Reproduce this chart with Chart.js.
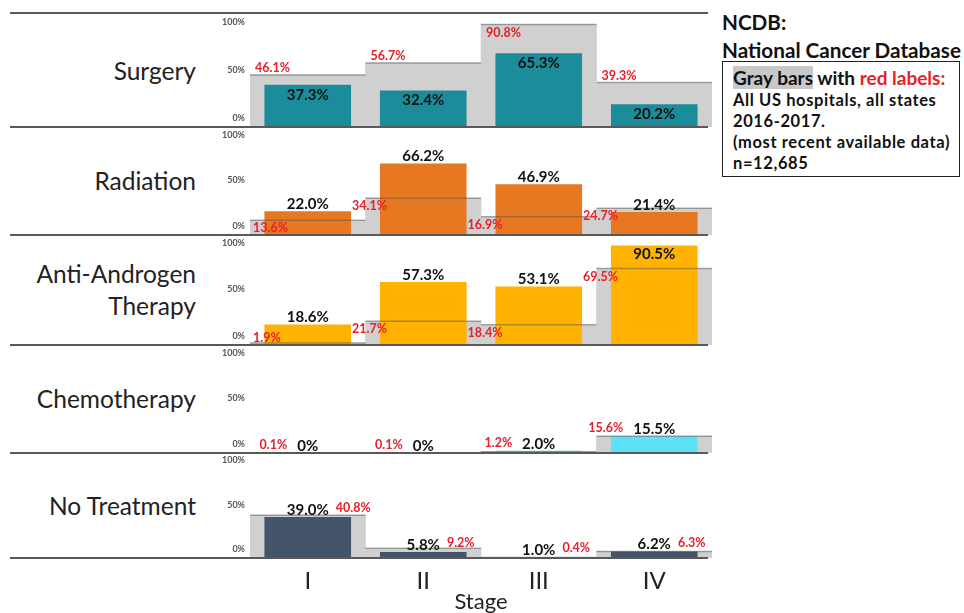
<!DOCTYPE html>
<html>
<head>
<meta charset="utf-8">
<title>Treatment by stage vs NCDB</title>
<script src="https://cdn.jsdelivr.net/npm/chart.js@4.4.1/dist/chart.umd.min.js"></script>
<style>
  body { margin: 0; background: #fff; font-family: Lato, "Open Sans", sans-serif; }
  #page { position: relative; width: 964px; height: 613px; overflow: hidden; }
  .row-label { position: absolute; left: 0; width: 196px; display: flex; align-items: center; justify-content: flex-end; text-align: right; font-size: 24.5px; line-height: 32px; color: #222; }
  .chart-box { position: absolute; left: 200px; width: 512px; }
  .sep { position: absolute; left: 10px; width: 698px; height: 2px; background: #595959; z-index: 2; }
  #ncdb-title { position: absolute; left: 722px; top: 8px; font-weight: bold; font-size: 20.7px; line-height: 28px; color: #111; white-space: nowrap; }
  #ncdb-box { position: absolute; left: 722px; top: 61px; width: 238px; height: 116px; border: 1.5px solid #222; box-sizing: border-box; padding: 3px 0 0 10px; font-weight: bold; color: #111; white-space: nowrap; }
  #ncdb-box .head { font-size: 19px; line-height: 25px; }
  #ncdb-box .hl { background: #c8c8c8; }
  #ncdb-box .red { color: #e8202a; }
  #ncdb-box .line { font-size: 16.5px; line-height: 21px; letter-spacing: 0.6px; }
</style>
</head>
<body>
<div id="page">
  <div class="row-label" style="top:14px;height:113px">Surgery</div>
  <div class="row-label" style="top:127px;height:108px">Radiation</div>
  <div class="row-label" style="top:235px;height:110px">Anti-Androgen<br>Therapy</div>
  <div class="row-label" style="top:345px;height:108px">Chemotherapy</div>
  <div class="row-label" style="top:453px;height:105px">No Treatment</div>

  <div class="chart-box" style="top:14px;height:113px"><canvas id="surgery"></canvas></div>
  <div class="chart-box" style="top:127px;height:108px"><canvas id="radiation"></canvas></div>
  <div class="chart-box" style="top:235px;height:110px"><canvas id="adt"></canvas></div>
  <div class="chart-box" style="top:345px;height:108px"><canvas id="chemo"></canvas></div>
  <div class="chart-box" style="top:453px;height:160px"><canvas id="none"></canvas></div>

  <div class="sep" style="top:12px"></div>
  <div class="sep" style="top:126px"></div>
  <div class="sep" style="top:234px"></div>
  <div class="sep" style="top:344px"></div>
  <div class="sep" style="top:452px"></div>
  <div class="sep" style="top:557px"></div>

  <div id="ncdb-title">NCDB:<br>National Cancer Database</div>
  <div id="ncdb-box">
    <div class="head"><span class="hl">Gray bars</span> with <span class="red">red labels:</span></div>
    <div class="line">All US hospitals, all states</div>
    <div class="line">2016-2017.</div>
    <div class="line">(most recent available data)</div>
    <div class="line">n=12,685</div>
  </div>
</div>

<script>
const stages = ['I', 'II', 'III', 'IV'];
const yTicks = [0, 50, 100];

// gray bars = NCDB (all US hospitals), colored bars = our hospital
const surgeryNcdb = [46.1, 56.7, 90.8, 39.3];
const surgeryLocal = [37.3, 32.4, 65.3, 20.2];
const radiationNcdb = [13.6, 34.1, 16.9, 24.7];
const radiationLocal = [22.0, 66.2, 46.9, 21.4];
const adtNcdb = [1.9, 21.7, 18.4, 69.5];
const adtLocal = [18.6, 57.3, 53.1, 90.5];
const chemoNcdb = [0.1, 0.1, 1.2, 15.6];
const chemoLocal = [0, 0, 2.0, 15.5];
const noneNcdb = [40.8, 9.2, 0.4, 6.3];
const noneLocal = [39.0, 5.8, 1.0, 6.2];

const fmt = v => (v === 0 ? '0%' : v.toFixed(1) + '%');

// value labels (black = hospital, red = NCDB) + darker top edge on gray bars
const barLabels = {
    id: 'barLabels',
    afterDatasetsDraw(chart, args, opts) {
        const ctx = chart.ctx;
        const area = chart.chartArea;
        const grayMeta = chart.getDatasetMeta(0);
        const barMeta = chart.getDatasetMeta(1);
        const grayData = chart.data.datasets[0].data;
        const barData = chart.data.datasets[1].data;

        ctx.save();
        ctx.strokeStyle = 'rgba(80,80,80,0.45)';
        ctx.lineWidth = 1.5;
        grayMeta.data.forEach(g => {
            ctx.beginPath();
            ctx.moveTo(g.x - g.width / 2, g.y);
            ctx.lineTo(g.x + g.width / 2, g.y);
            ctx.stroke();
        });

        ctx.textBaseline = 'middle';
        barMeta.data.forEach((b, i) => {
            const g = grayMeta.data[i];
            const black = fmt(barData[i]);
            const red = fmt(grayData[i]);

            ctx.font = 'bold 15px Lato';
            const bw = ctx.measureText(black).width;
            let by;
            if (opts.black === 'inside') by = b.y + 10;
            else by = (b.y - 15 < area.top) ? b.y + 9 : b.y - 7;
            ctx.fillStyle = '#111';
            ctx.textAlign = 'center';
            ctx.fillText(black, b.x, by);

            ctx.font = 'bold 12.5px Lato';
            const rw = ctx.measureText(red).width;
            const gLeft = g.x - g.width / 2;
            let rx, ry;
            switch (opts.red) {
                case 'aboveLeft':
                    rx = gLeft + 5;
                    ry = (g.y - 15 < area.top) ? g.y + 9 : g.y - 7;
                    break;
                case 'inside':
                    rx = Math.max(gLeft + 4 - rw / 2, area.left + 3);
                    ry = Math.min(g.y + 8, area.bottom - 7);
                    break;
                case 'leftOfBlack':
                    rx = b.x - bw / 2 - 10 - rw;
                    ry = by - 1;
                    break;
                default: // rightOfBlack
                    rx = b.x + bw / 2 + 7;
                    ry = by - 2;
            }
            ctx.fillStyle = '#e8202a';
            ctx.textAlign = 'left';
            ctx.fillText(red, rx, ry);
        });
        ctx.restore();
    }
};

function makeRow(id, ncdb, local, color, labelOpts, showX) {
    return new Chart(document.getElementById(id), {
        type: 'bar',
        data: {
            labels: stages,
            datasets: [
                { label: 'NCDB', data: ncdb, backgroundColor: '#d0d0d0', barPercentage: 1, categoryPercentage: 1, grouped: false, order: 2 },
                { label: 'Hospital', data: local, backgroundColor: color, barPercentage: 0.75, categoryPercentage: 1, grouped: false, order: 1 }
            ]
        },
        options: {
            responsive: true,
            maintainAspectRatio: false,
            animation: false,
            layout: { padding: 0 },
            plugins: {
                legend: { display: false },
                tooltip: { enabled: false },
                barLabels: labelOpts
            },
            scales: {
                x: {
                    display: showX,
                    grid: { display: false, drawTicks: false },
                    border: { display: false },
                    ticks: { color: '#222', padding: 9, font: { size: 24, family: 'Lato' } },
                    title: { display: showX, text: 'Stage', color: '#222', padding: 0, font: { size: 22, family: 'Lato', lineHeight: 1 } },
                    afterFit: s => { if (showX) s.height = 55; }
                },
                y: { display: false, min: 0, max: 100 },
                yt: {
                    position: 'left',
                    min: -9.5,
                    max: 108.5,
                    grid: { display: false, drawTicks: false },
                    border: { display: false },
                    afterBuildTicks: s => { s.ticks = yTicks.map(v => ({ value: v })); },
                    ticks: {
                        callback: v => v + '%',
                        color: '#555',
                        padding: 5,
                        font: { size: 9, weight: 'bold', family: 'Lato' }
                    },
                    afterFit: s => { s.width = 50; s.paddingTop = 0; s.paddingBottom = 0; }
                }
            }
        },
        plugins: [barLabels]
    });
}

document.addEventListener('DOMContentLoaded', () => {
    makeRow('surgery', surgeryNcdb, surgeryLocal, '#1b8c9a', { black: 'inside', red: 'aboveLeft' }, false);
    makeRow('radiation', radiationNcdb, radiationLocal, '#e87722', { black: 'above', red: 'inside' }, false);
    makeRow('adt', adtNcdb, adtLocal, '#ffb300', { black: 'above', red: 'inside' }, false);
    makeRow('chemo', chemoNcdb, chemoLocal, '#5ce1f7', { black: 'above', red: 'leftOfBlack' }, false);
    makeRow('none', noneNcdb, noneLocal, '#44546a', { black: 'above', red: 'rightOfBlack' }, true);
});
</script>
</body>
</html>
